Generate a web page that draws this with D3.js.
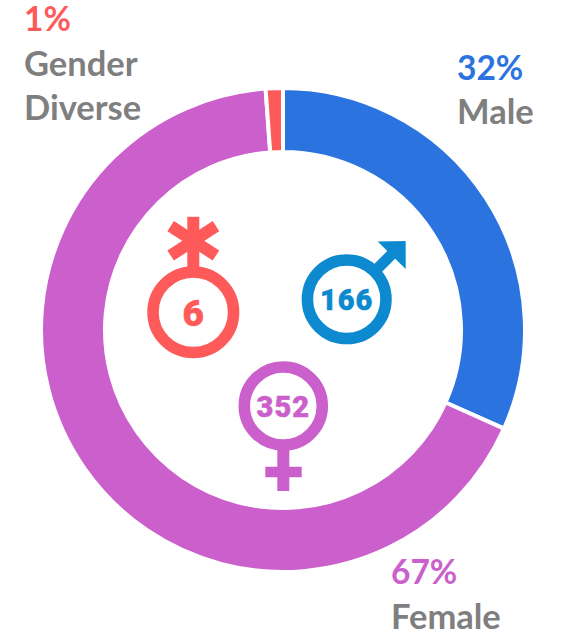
<!DOCTYPE html>
<html><head><meta charset="utf-8">
<script src="https://cdn.jsdelivr.net/npm/d3@7"></script>
<style>html,body{margin:0;padding:0;background:#fff}svg{display:block}</style></head>
<body><svg id="c" width="567" height="632"></svg>
<script>
const categories = ["Male","Female","Gender Diverse"];
const counts = [166,352,6];
const percents = ["32%","67%","1%"];
const colors = ["#2b74e0","#cb60cc","#ff5a5a"];
const iconColors = ["#0d8acf","#cb60cc","#ff5a5a"];

const svg = d3.select("#c");
const ring = svg.append("g").attr("transform","translate(283,330)");
const pie = d3.pie().sort(null)(counts);
const arc = d3.arc().innerRadius(178).outerRadius(242);
ring.selectAll("path").data(pie).join("path")
  .attr("d",arc).attr("fill",(d,i)=>colors[i])
  .attr("stroke","#fff").attr("stroke-width",4);
const labelFont = "Lato, 'Open Sans', sans-serif";
const labels = [
  {i:0,x:457,lines:[[80,percents[0],true],[124,"Male",false]]},
  {i:1,x:391,lines:[[584,percents[1],true],[629,"Female",false]]},
  {i:2,x:24,lines:[[31,percents[2],true],[76,"Gender",false],[120,"Diverse",false]]}
];
labels.forEach(l=>l.lines.forEach(([y,t,pct])=>{
  svg.append("text").attr("x",l.x).attr("y",y).text(t)
    .attr("font-family",labelFont).attr("font-weight",700).attr("font-size",pct?33.5:34.5)
    .attr("fill",pct?colors[l.i]:"#7f7f7f");
}));

function ringIcon(g,r,col){
  g.append("circle").attr("r",r).attr("fill","#fff").attr("stroke",col).attr("stroke-width",11.5);
}
function num(g,t,col,size,dy){
  g.append("text").text(t).attr("text-anchor","middle").attr("y",dy)
   .attr("font-family","Roboto,sans-serif").attr("font-weight",900)
   .attr("letter-spacing",String(t).length>1?1:0)
   .attr("font-size",size).attr("fill",col).attr("stroke",col).attr("stroke-width",.5);
}
// Male
let col=iconColors[0];
let g=svg.append("g").attr("transform","translate(346.7,299.3)");
g.append("line").attr("x1",28).attr("y1",-28).attr("x2",46).attr("y2",-46).attr("stroke",col).attr("stroke-width",11);
g.append("path").attr("d","M31,-57.7L59,-58.3L59,-30.3Z").attr("fill",col);
ringIcon(g,39.3,col); num(g,counts[0],col,29,10.5);
// Female
col=iconColors[1];
g=svg.append("g").attr("transform","translate(283.3,406)");
g.append("line").attr("x1",0).attr("y1",40).attr("x2",0).attr("y2",85).attr("stroke",col).attr("stroke-width",12);
g.append("line").attr("x1",-18).attr("y1",66).attr("x2",18.4).attr("y2",66).attr("stroke",col).attr("stroke-width",10.6);
ringIcon(g,39,col); num(g,counts[1],col,29,11);
// Gender diverse
col=iconColors[2];
g=svg.append("g").attr("transform","translate(193.3,312.3)");
g.append("line").attr("x1",0).attr("y1",-40).attr("x2",0).attr("y2",-95.5).attr("stroke",col).attr("stroke-width",12);
[-57,57].forEach(a=>{
  g.append("line").attr("transform",`translate(0,-71.5) rotate(${a})`)
   .attr("y1",-27).attr("y2",27).attr("stroke",col).attr("stroke-width",12);
});
ringIcon(g,40.3,col);
num(g,counts[2],col,37,13.5);
</script></body></html>
